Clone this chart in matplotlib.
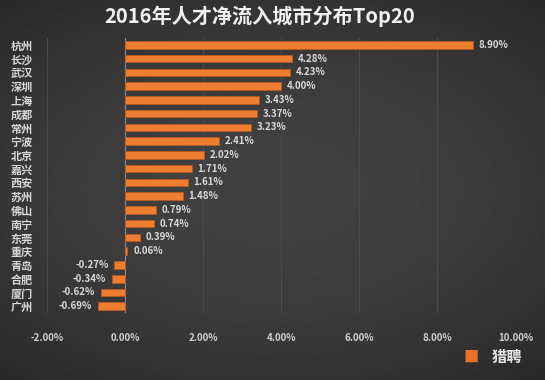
import numpy as np
import matplotlib
matplotlib.use('Agg')
import matplotlib.pyplot as plt

plt.rcParams['font.family'] = ['Noto Sans CJK SC', 'DejaVu Sans']

cities = ['杭州', '长沙', '武汉', '深圳', '上海', '成都', '常州', '宁波', '北京', '嘉兴',
          '西安', '苏州', '佛山', '南宁', '东莞', '重庆', '青岛', '合肥', '厦门', '广州']
rates = [8.90, 4.28, 4.23, 4.00, 3.43, 3.37, 3.23, 2.41, 2.02, 1.71,
         1.61, 1.48, 0.79, 0.74, 0.39, 0.06, -0.27, -0.34, -0.62, -0.69]
xticks = [-2, 0, 2, 4, 6, 8, 10]

fig = plt.figure(figsize=(5.45, 3.8), dpi=100)

# dark background with a soft vignette
bg = fig.add_axes([0, 0, 1, 1], zorder=-1)
yy, xx = np.mgrid[-1:1:200j, -1:1:300j]
shade = 0.255 - 0.07 * (xx ** 2 * 0.6 + yy ** 2 * 0.8)
bg.imshow(shade, cmap='gray', vmin=0, vmax=1, aspect='auto', extent=[0, 1, 0, 1])
bg.axis('off')

ax = fig.add_axes([0.086, 0.176, 0.86, 0.724])
ax.set_facecolor('none')
y = np.arange(len(cities))
ax.barh(y, rates, height=0.55, color='#ED7D31', edgecolor='#b85a20', linewidth=0.6, zorder=3)

for yi, v in zip(y, rates):
    if v >= 0:
        ax.text(v + 0.15, yi, '%.2f%%' % v, va='center', ha='left',
                fontsize=7, fontweight='bold', color='#d9d9d9')
    else:
        ax.text(v - 0.15, yi, '%.2f%%' % v, va='center', ha='right',
                fontsize=7, fontweight='bold', color='#d9d9d9')

ax.set_xlim(-2, 10)
ax.set_ylim(len(cities) - 0.5, -0.5)
ax.set_xticks(xticks)
ax.set_xticklabels(['%.2f%%' % t for t in xticks], fontsize=7, fontweight='bold', color='#d0d0d0')
ax.set_yticks(y)
ax.set_yticklabels(cities, fontsize=8, fontweight='bold', color='#d8d8d8')
ax.tick_params(axis='both', length=0)
ax.tick_params(axis='x', pad=14)
ax.tick_params(axis='y', pad=10)
ax.grid(axis='x', color='#4a4a4a', linewidth=0.8, zorder=0)
ax.axvline(0, color='#8a8a8a', linewidth=0.8, zorder=2)
for s in ax.spines.values():
    s.set_visible(False)

fig.text(0.476, 0.958, '2016年人才净流入城市分布Top20', ha='center', va='center',
         fontsize=14.5, fontweight='bold', color='#f0f0f0')

# watermark
fig.text(0.865, 0.06, '■', ha='center', va='center', fontsize=11, color='#e8702a')
fig.text(0.93, 0.06, '猎聘', ha='center', va='center', fontsize=11, fontweight='bold', color='#e6e6e6')

fig.savefig('out.png', dpi=100)
